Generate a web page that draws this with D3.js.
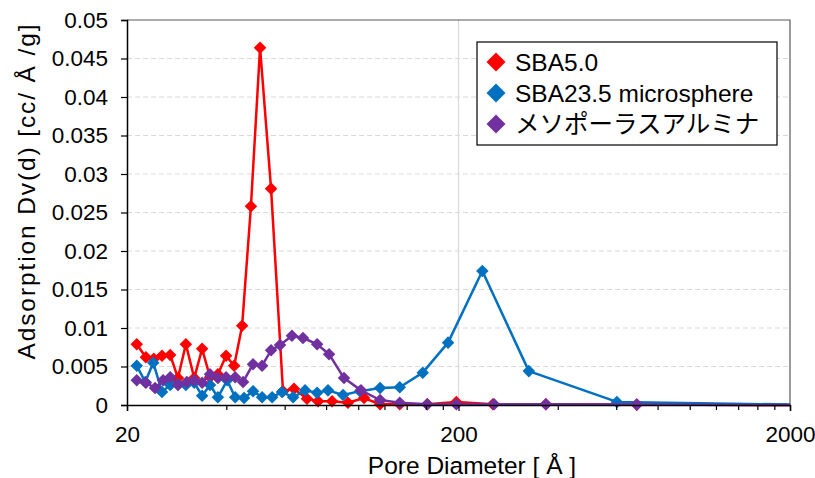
<!DOCTYPE html>
<html>
<head>
<meta charset="utf-8">
<script src="https://cdn.jsdelivr.net/npm/d3@7"></script>
<style>
  body { margin: 0; background: #fff; }
  svg text { font-family: Arial, "Liberation Sans", "Noto Sans CJK JP", sans-serif; fill: #000; }
</style>
</head>
<body>
<script>
// pore diameter [Å] and Dv(d) values
const sbaD = [21.4, 22.8, 24.1, 25.5, 27.0, 28.5, 30.1, 31.9, 33.7, 35.6, 37.6, 39.8, 42.1, 44.5, 47.3, 50.4, 54.4, 59.1, 63.8, 69.8, 75.4, 83.1, 92.8, 103.8, 116, 133, 161, 197, 254, 367, 690, 2500];
const sbaV = [0.0079, 0.0062, 0.0060, 0.0064, 0.0065, 0.0035, 0.0079, 0.0035, 0.0073, 0.0036, 0.0040, 0.0064, 0.0051, 0.0103, 0.0258, 0.0464, 0.0281, 0.0018, 0.0021, 0.0008, 0.0005, 0.0005, 0.0003, 0.0009, 0.0001, 0.0001, 0.0001, 0.0004, 0.0001, 0.0001, 0.00005, 0];

const microD = [21.4, 22.7, 24.0, 25.5, 27.0, 28.5, 30.1, 31.9, 33.7, 35.6, 37.6, 40.1, 42.4, 45.1, 48.0, 51.1, 54.8, 58.7, 63.4, 68.9, 74.9, 80.8, 89.7, 100.9, 116, 133, 156, 186, 236, 326, 601, 2500];
const microV = [0.0051, 0.0030, 0.0055, 0.0017, 0.0026, 0.0027, 0.0026, 0.0029, 0.0012, 0.0026, 0.0010, 0.0032, 0.0010, 0.0009, 0.0018, 0.0010, 0.0010, 0.0017, 0.0010, 0.0019, 0.0016, 0.0019, 0.0013, 0.0018, 0.0022, 0.0023, 0.0042, 0.0081, 0.0174, 0.0044, 0.0004, 0];

const aluD = [21.4, 22.8, 24.3, 25.7, 27.0, 28.5, 30.3, 31.9, 33.7, 35.6, 37.6, 39.8, 42.4, 44.8, 48.0, 51.1, 54.4, 57.9, 62.9, 67.9, 74.9, 81.4, 90.3, 101.6, 116, 133, 161, 197, 256, 367, 690, 2500];
const aluV = [0.0032, 0.0029, 0.0022, 0.0032, 0.0036, 0.0026, 0.0030, 0.0032, 0.0029, 0.0040, 0.0035, 0.0036, 0.0036, 0.0030, 0.0053, 0.0051, 0.0071, 0.0078, 0.0090, 0.0087, 0.0079, 0.0066, 0.0035, 0.0019, 0.00065, 0.0003, 0.0001, 0.0001, 0.0001, 0.0001, 0.00005, 0];

const seriesNames = ["SBA5.0", "SBA23.5 microsphere", "メソポーラスアルミナ"];
const seriesColors = ["#FF0000", "#0070C0", "#7030A0"];
const xTickLabels = [20, 200, 2000];
const yTicks = d3.range(0, 0.0501, 0.005);

const W = 815, H = 478;
const pLeft = 127, pRight = 790, pTop = 20, pBottom = 405;

const svg = d3.select("body").append("svg")
  .attr("width", W).attr("height", H);

const x = d3.scaleLog().domain([20, 2000]).range([pLeft, pRight]);
const y = d3.scaleLinear().domain([0, 0.05]).range([pBottom, pTop]);

// horizontal dashed grid
svg.append("g").selectAll("line")
  .data(yTicks.filter(v => v > 0.0001 && v < 0.0499))
  .enter().append("line")
  .attr("x1", pLeft).attr("x2", pRight)
  .attr("y1", d => y(d)).attr("y2", d => y(d))
  .attr("stroke", "#D9D9D9").attr("stroke-width", 1.2)
  .attr("stroke-dasharray", "5,3");

// vertical grid at 200
svg.append("line")
  .attr("x1", x(200)).attr("x2", x(200))
  .attr("y1", pTop).attr("y2", pBottom)
  .attr("stroke", "#D9D9D9").attr("stroke-width", 1.2);

// top and right border
svg.append("path")
  .attr("d", `M${pLeft},${pTop}H${pRight}V${pBottom}`)
  .attr("fill", "none").attr("stroke", "#595959").attr("stroke-width", 1.2);

// series
svg.append("clipPath").attr("id", "plotclip")
  .append("rect").attr("x", pLeft).attr("y", pTop - 10)
  .attr("width", pRight - pLeft).attr("height", pBottom - pTop + 20);

const plot = svg.append("g").attr("clip-path", "url(#plotclip)");
const allSeries = [[sbaD, sbaV], [microD, microV], [aluD, aluV]];
const line = d3.line().x(d => x(d[0])).y(d => y(d[1]));
const diamond = d3.symbol().type(d3.symbolDiamond2).size(100);

allSeries.forEach((s, i) => {
  const pts = s[0].map((d, k) => [d, s[1][k]]);
  const g = plot.append("g");
  g.append("path").datum(pts)
    .attr("d", line)
    .attr("fill", "none")
    .attr("stroke", seriesColors[i])
    .attr("stroke-width", 2.5)
    .attr("stroke-linejoin", "round");
  g.selectAll("path.pt").data(pts.filter(p => p[0] <= 2000))
    .enter().append("path").attr("class", "pt")
    .attr("d", diamond)
    .attr("transform", p => `translate(${x(p[0])},${y(p[1])})`)
    .attr("fill", seriesColors[i]);
});

// y axis
const yAxis = d3.axisLeft(y).tickValues(yTicks).tickSize(6).tickPadding(13)
  .tickFormat(d => d === 0 ? "0" : d3.format(".3~f")(d));
const yg = svg.append("g").attr("transform", `translate(${pLeft},0)`).call(yAxis);
yg.select(".domain").attr("stroke", "#000").attr("stroke-width", 1.5);
yg.selectAll(".tick line").attr("stroke", "#000").attr("stroke-width", 1.2);
yg.selectAll("text").style("font-size", "22.5px");

// x axis with minor ticks
const minor = [];
for (let v = 40; v < 200; v += 20) minor.push(v);
for (let v = 400; v < 2000; v += 200) minor.push(v);
const xg = svg.append("g").attr("transform", `translate(0,${pBottom})`);
xg.call(d3.axisBottom(x).tickValues(xTickLabels).tickSize(6).tickPadding(15).tickFormat(d3.format("d")));
xg.select(".domain").attr("stroke", "#000").attr("stroke-width", 1.5);
xg.selectAll(".tick line").attr("stroke", "#000").attr("stroke-width", 1.2);
xg.selectAll("text").style("font-size", "22.5px");
xg.selectAll("line.minor").data(minor).enter().append("line")
  .attr("class", "minor")
  .attr("x1", d => x(d)).attr("x2", d => x(d))
  .attr("y1", 0).attr("y2", 5)
  .attr("stroke", "#000").attr("stroke-width", 1.2);

// axis titles
svg.append("text")
  .attr("x", 472).attr("y", 474)
  .attr("text-anchor", "middle")
  .style("font-size", "24.5px")
  .text("Pore Diameter [ Å ]");

svg.append("text")
  .attr("transform", "translate(35,192)rotate(-90)")
  .attr("text-anchor", "middle")
  .attr("textLength", 335)
  .attr("lengthAdjust", "spacing")
  .style("font-size", "24.5px")
  .text("Adsorption Dv(d) [cc/ Å /g]");

// legend
const lg = svg.append("g");
lg.append("rect")
  .attr("x", 477).attr("y", 42).attr("width", 300).attr("height", 103)
  .attr("fill", "#fff").attr("stroke", "#000").attr("stroke-width", 1.2);
seriesNames.forEach((name, i) => {
  const cy = 62 + i * 31;
  lg.append("path")
    .attr("d", d3.symbol().type(d3.symbolDiamond2).size(230)())
    .attr("transform", `translate(496,${cy})`)
    .attr("fill", seriesColors[i]);
  lg.append("text")
    .attr("x", 515).attr("y", cy).attr("dy", "0.36em")
    .style("font-size", "24.5px")
    .text(name);
});
</script>
</body>
</html>
